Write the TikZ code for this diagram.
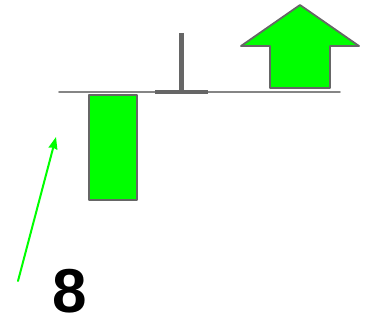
\documentclass[tikz,border=0pt]{standalone}
\usepackage{fontspec}
\setmainfont{Liberation Sans}
\usetikzlibrary{arrows.meta}
\definecolor{candlegreen}{HTML}{00FF00}
\definecolor{edgegray}{HTML}{666666}

\begin{document}
\begin{tikzpicture}[x=1pt, y=-1pt, line join=round, line cap=round]
	\useasboundingbox (0, 0) rectangle (374, 320);
	\tikzset{candle/.style={fill=candlegreen, draw=edgegray, line width=2pt}}
	% base line
	\draw[edgegray!80, line width=1.6pt] (59, 92) -- (340, 92);
	% down body
	\draw[candle] (89, 95) rectangle (137, 200);
	% doji
	\draw[edgegray, line width=5pt, line cap=butt] (181.5, 33) -- (181.5, 90);
	\draw[edgegray, line width=4pt, line cap=butt] (155, 92) -- (208, 92);
	% up arrow
	\draw[candle, line width=1.8pt] (300, 5) -- (359, 46) -- (330, 46) -- (330, 88)
		-- (270, 88) -- (270, 46) -- (241, 46) -- cycle;
	% pointer
	\coordinate (start) at (18, 281);
	\coordinate (tip) at (56, 137);
	\draw[-{Stealth[length=12pt, width=9pt, inset=1pt]}, candlegreen, line width=2pt] (start) -- (tip);
	\node[font=\bfseries\fontsize{62}{62}\selectfont, inner sep=0pt, anchor=base] (num) at (70, 312) {8};
\end{tikzpicture}
\end{document}
